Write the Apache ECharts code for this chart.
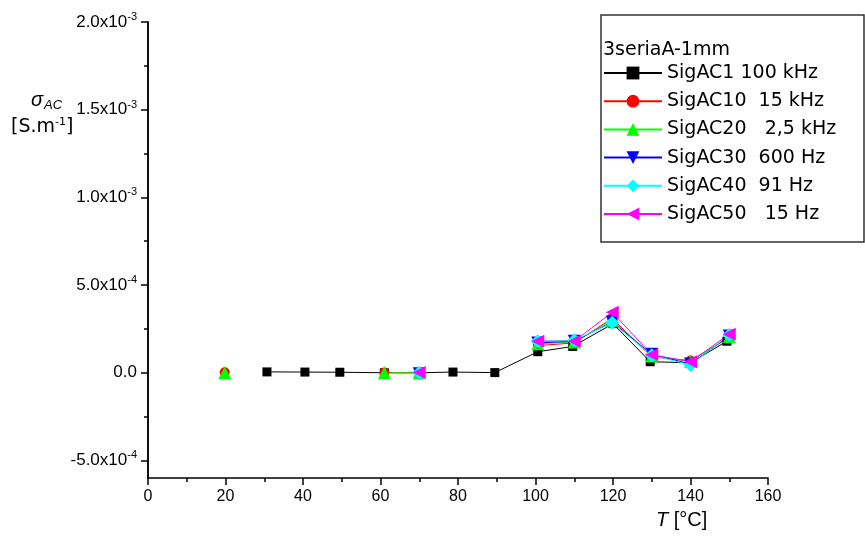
<!DOCTYPE html>
<html>
<head>
<meta charset="utf-8">
<script src="https://cdn.jsdelivr.net/npm/echarts@6/dist/echarts.min.js"></script>
<style>
  html, body { margin: 0; padding: 0; background: #fff; }
  #chart { width: 865px; height: 538px; }
</style>
</head>
<body>
<div id="chart"></div>
<script>
// temperatures (°C) and conductivity (S/m)
const tempAC1 = [30.7, 40.5, 49.5, 61, 70, 78.7, 89.5, 100.6, 109.6, 120, 129.6, 140, 149.4];
const sigAC1 = [5e-6, 4e-6, 3e-6, 0, 0, 4e-6, 1e-6, 1.2e-4, 1.5e-4, 2.8e-4, 6.3e-5, 5.7e-5, 1.8e-4];

// '-' breaks the line where Origin had missing values
const tempLow = [19.8, 45, 61, 70, 85, 100.6, 110, 119.8, 130, 140, 150];
const sigAC10 = [3e-6, '-', 2e-6, 0, '-', 1.55e-4, 1.7e-4, 3.1e-4, 9e-5, 7e-5, 2.0e-4];
const sigAC20 = [0, '-', 0, 0, '-', 1.65e-4, 1.75e-4, 3.0e-4, 9.5e-5, 6.5e-5, 2.05e-4];

const tempHigh = [70, 85, 100.6, 110, 119.8, 130, 140, 150];
const sigAC30 = [-5e-6, '-', 1.7e-4, 1.8e-4, 2.9e-4, 1.05e-4, 5e-5, 2.1e-4];
const sigAC40 = [0, '-', 1.8e-4, 1.85e-4, 2.85e-4, 1.0e-4, 4.5e-5, 2.15e-4];
const sigAC50 = [2e-6, '-', 1.8e-4, 1.8e-4, 3.45e-4, 1.03e-4, 6.3e-5, 2.2e-4];

const yMajor = [-5e-4, 0, 5e-4, 1e-3, 1.5e-3, 2e-3];
const yMinor = [-2.5e-4, 2.5e-4, 7.5e-4, 1.25e-3, 1.75e-3];

const FONT = '"Liberation Sans", Arial, sans-serif';
const WIDE = '"DejaVu Sans", sans-serif';

const pair = (xs, ys) => xs.map((x, i) => [x, ys[i]]);

const chart = echarts.init(document.getElementById('chart'));

function fmtY(v) {
  if (Math.abs(v) < 1e-12) return '0.0';
  const e = Math.floor(Math.log10(Math.abs(v)) + 1e-9);
  const m = v / Math.pow(10, e);
  return m.toFixed(1) + 'x10{sup|' + e + '}';
}

function mkSeries(name, data, color, symbol, size, rotate) {
  return {
    name: name,
    type: 'line',
    data: data,
    symbol: symbol,
    symbolSize: size,
    symbolRotate: rotate || 0,
    connectNulls: false,
    lineStyle: { color: color, width: 1 },
    itemStyle: { color: color },
    emphasis: { disabled: true }
  };
}

const yBase = {
  type: 'value',
  min: -6e-4,
  max: 2e-3,
  splitLine: { show: false },
  axisLine: { show: true, onZero: false, lineStyle: { color: '#000', width: 1.5 } }
};

const option = {
  animation: false,
  backgroundColor: '#fff',
  title: {
    text: '3seriaA-1mm',
    left: 598,
    top: 36,
    textStyle: { fontFamily: WIDE, fontSize: 19, fontWeight: 'normal', color: '#000' }
  },
  grid: { left: 148, right: 97, top: 22, bottom: 60 },
  xAxis: {
    type: 'value',
    min: 0,
    max: 160,
    interval: 20,
    splitLine: { show: false },
    axisLine: { onZero: false, lineStyle: { color: '#000', width: 1.5 } },
    axisTick: { length: 7, lineStyle: { color: '#000', width: 1.5 } },
    minorTick: { show: true, splitNumber: 2, length: 4, lineStyle: { color: '#000', width: 1.5 } },
    axisLabel: { fontFamily: FONT, fontSize: 16, color: '#000', margin: 11 }
  },
  yAxis: [
    Object.assign({}, yBase, {
      axisTick: { show: true, length: 7, customValues: yMajor, lineStyle: { color: '#000', width: 1.5 } },
      axisLabel: {
        customValues: yMajor,
        formatter: fmtY,
        fontFamily: FONT,
        fontSize: 17,
        color: '#000',
        margin: 11,
        rich: { sup: { fontFamily: FONT, fontSize: 11, color: '#000', padding: [0, 0, 10, 0] } }
      }
    }),
    Object.assign({}, yBase, {
      position: 'left',
      axisTick: { show: true, length: 4, customValues: yMinor, lineStyle: { color: '#000', width: 1.5 } },
      axisLabel: { show: false }
    })
  ],
  legend: {
    orient: 'vertical',
    left: 598,
    top: 58,
    itemWidth: 58,
    itemHeight: 16,
    itemGap: 8.2,
    textStyle: { fontFamily: WIDE, fontSize: 19, lineHeight: 20, color: '#000' },
    selectedMode: false
  },
  graphic: [
    {
      type: 'rect',
      shape: { x: 601, y: 15, width: 263, height: 227 },
      style: { fill: 'none', stroke: '#333', lineWidth: 1.5 },
      z: 0
    },
    {
      type: 'text',
      left: 31,
      top: 90,
      style: {
        text: '{s|σ}{sub|AC}',
        rich: {
          s: { fontFamily: FONT, fontStyle: 'italic', fontSize: 20, fill: '#000' },
          sub: { fontFamily: FONT, fontStyle: 'italic', fontSize: 13, fill: '#000', padding: [10, 0, 0, 1] }
        }
      }
    },
    {
      type: 'text',
      left: 11,
      top: 117,
      style: {
        text: '[S.m{sup|-1}]',
        rich: {
          sup: { fontFamily: WIDE, fontSize: 11, fill: '#000', padding: [0, 0, 10, 0] }
        },
        font: '19px ' + WIDE,
        fill: '#000'
      }
    },
    {
      type: 'text',
      left: 656,
      top: 510,
      style: {
        text: '{t|T} [°C]',
        rich: { t: { fontFamily: FONT, fontStyle: 'italic', fontSize: 20, fill: '#000' } },
        font: '20px ' + FONT,
        fill: '#000'
      }
    }
  ],
  series: [
    mkSeries('SigAC1 100 kHz', pair(tempAC1, sigAC1), '#000000', 'rect', 9),
    mkSeries('SigAC10  15 kHz', pair(tempLow, sigAC10), '#ff0000', 'circle', 10),
    mkSeries('SigAC20   2,5 kHz', pair(tempLow, sigAC20), '#00ff00', 'triangle', 13),
    mkSeries('SigAC30  600 Hz', pair(tempHigh, sigAC30), '#0000ff', 'triangle', 13, 180),
    mkSeries('SigAC40  91 Hz', pair(tempHigh, sigAC40), '#00ffff', 'diamond', 14),
    mkSeries('SigAC50   15 Hz', pair(tempHigh, sigAC50), '#ff00ff', 'triangle', 13, 90)
  ]
};

chart.setOption(option);
</script>
</body>
</html>
